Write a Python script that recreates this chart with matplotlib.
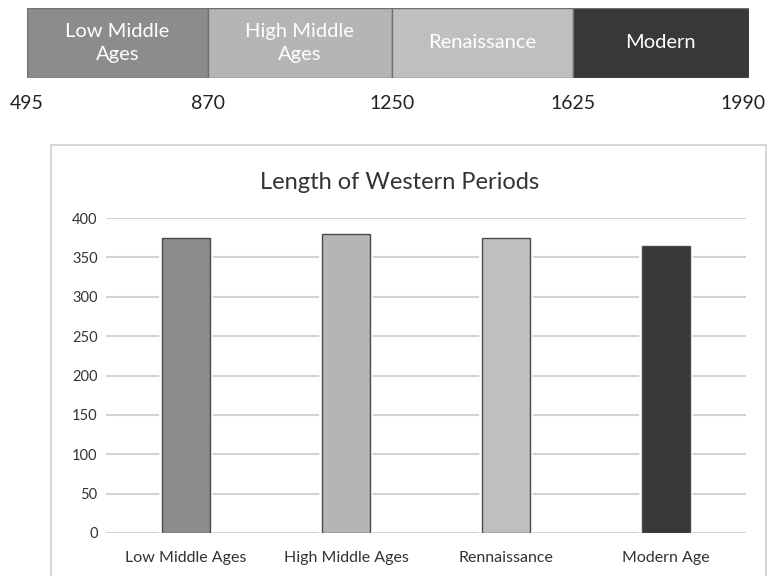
import matplotlib
matplotlib.use("Agg")
import matplotlib.pyplot as plt
from matplotlib.patches import Rectangle

plt.rcParams['font.family'] = ['Lato', 'DejaVu Sans']

periods = ["Low Middle\nAges", "High Middle\nAges", "Renaissance", "Modern"]
years = [495, 870, 1250, 1625, 1990]
categories = ["Low Middle Ages", "High Middle Ages", "Rennaissance", "Modern Age"]
lengths = [375, 380, 375, 365]
colors = ["#8c8c8c", "#b5b5b5", "#bfbfbf", "#383838"]
yticks = [0, 50, 100, 150, 200, 250, 300, 350, 400]
title = "Length of Western Periods"

W, H = 767, 576
fig = plt.figure(figsize=(W / 100, H / 100), dpi=100)

def fx(px):
    return px / W

def fy(py):
    return 1 - py / H

# Timeline
ax1 = fig.add_axes([fx(27), fy(78), fx(749) - fx(27), fy(8) - fy(78)])
starts = years[:-1]
widths = [b - a for a, b in zip(years[:-1], years[1:])]
ax1.barh([0], widths, left=starts, height=1, color=colors,
         edgecolor="#707070", linewidth=1)
for s, w, lab in zip(starts, widths, periods):
    ax1.text(s + w / 2, 0, lab, ha="center", va="center", color="white",
             fontsize=14.5, linespacing=1.4)
ax1.set_xlim(years[0], years[-1])
ax1.set_ylim(-0.5, 0.5)
ax1.axis("off")
for i, yv in enumerate(years):
    if i == len(years) - 1:
        ax1.annotate(str(yv), xy=(yv, -0.86), xycoords="data",
                     xytext=(17, 0), textcoords="offset pixels",
                     ha="right", va="center", fontsize=14, color="#222222",
                     annotation_clip=False)
    else:
        ax1.text(yv, -0.86, str(yv), ha="center", va="center", fontsize=14,
                 color="#222222", clip_on=False)

# Chart box
fig.patches.append(Rectangle((fx(51), fy(590)), fx(766) - fx(51), fy(145) - fy(590),
                             transform=fig.transFigure, fill=False,
                             edgecolor="#d0d0d0", linewidth=1.2))
fig.text(fx(400), fy(183), title, ha="center", va="center", fontsize=17,
         color="#333333")

ax2 = fig.add_axes([fx(106), fy(533), fx(746) - fx(106), fy(218) - fy(533)])
x = list(range(len(categories)))
ax2.bar(x, lengths, width=0.3, color=colors, edgecolor="white", linewidth=4, zorder=2)
ax2.bar(x, lengths, width=0.3, color=colors, edgecolor="#4a4a4a", linewidth=1, zorder=3)
ax2.set_xlim(-0.5, 3.5)
ax2.set_ylim(0, 400)
ax2.set_yticks(yticks)
ax2.set_yticklabels([str(v) for v in yticks], fontsize=10.5, color="#333333")
ax2.set_xticks(x)
ax2.set_xticklabels(categories, fontsize=11.5, color="#333333")
ax2.tick_params(axis="both", length=0)
ax2.tick_params(axis="y", pad=6)
ax2.tick_params(axis="x", pad=13)
ax2.grid(axis="y", color="#d4d4d4", linewidth=1.5, zorder=0)
ax2.set_axisbelow(True)
for sp in ax2.spines.values():
    sp.set_visible(False)

fig.savefig("out.png", dpi=100)
